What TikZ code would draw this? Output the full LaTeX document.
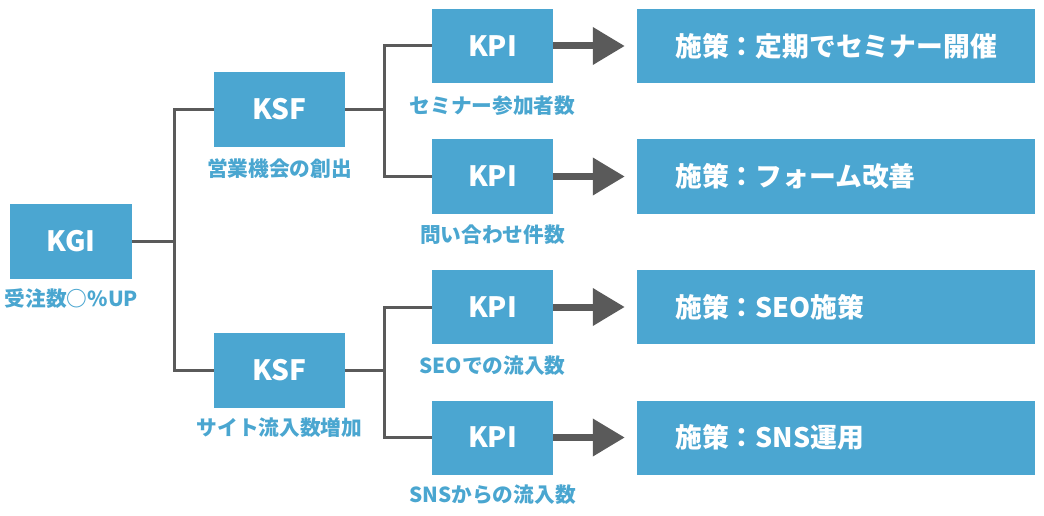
\documentclass[tikz,border=0pt]{standalone}
\usepackage{fontspec}
\setmainfont{Noto Sans CJK JP}
\usetikzlibrary{arrows.meta}
\definecolor{boxblue}{HTML}{4BA6D1}
\definecolor{lblblue}{HTML}{4AA6D0}
\definecolor{linegray}{HTML}{5A5A5A}
\tikzset{
  box/.style={fill=boxblue, draw=none, text=white, font=\fontsize{28}{30}\selectfont\bfseries, inner sep=0pt},
  headbox/.style={box, minimum width=122pt, minimum height=75pt},
  ksfbox/.style={box, minimum width=131pt, minimum height=75pt},
  kpibox/.style={box, minimum width=121pt, minimum height=74pt},
  measbox/.style={box, minimum width=398pt, minimum height=74pt},
  meastext/.style={anchor=west, text=white, font=\fontsize{26.8}{28}\selectfont\bfseries, inner sep=0pt},
  lbl/.style={text=lblblue, font=\fontsize{20.7}{22}\selectfont\bfseries, inner sep=0pt},
  conn/.style={draw=linegray, line width=3pt},
  bigarrow/.style={draw=linegray, line width=7pt, -{Triangle[length=32pt,width=36pt]}, shorten >=12pt},
}
\begin{document}
\begin{tikzpicture}[x=1pt,y=-1pt]
\useasboundingbox (0,0) rectangle (1044,516);
% boxes
\node[headbox] (kgi) at (71,241.5) {KGI};
\node[ksfbox] (ksf1) at (279.5,109.5) {KSF};
\node[ksfbox] (ksf2) at (279.5,370.5) {KSF};
\node[kpibox] (kpi1) at (492.5,46) {KPI};
\node[kpibox] (kpi2) at (492.5,176.5) {KPI};
\node[kpibox] (kpi3) at (492.5,307) {KPI};
\node[kpibox] (kpi4) at (492.5,437.5) {KPI};
\node[measbox] (m1) at (836,46) {};
\node[measbox] (m2) at (836,176.5) {};
\node[measbox] (m3) at (836,307) {};
\node[measbox] (m4) at (836,437.5) {};
\node[meastext] (t1) at (675,46) {施策：定期でセミナー開催};
\node[meastext] (t2) at (675,176.5) {施策：フォーム改善};
\node[meastext] (t3) at (675,307) {施策：SEO施策};
\node[meastext] (t4) at (675,437.5) {施策：SNS運用};
% labels
\node[lbl] (lkgi) at (71.5,299) {受注数○\%UP};
\node[lbl] (lksf1) at (279.5,169) {営業機会の創出};
\node[lbl] (lksf2) at (279.5,428) {サイト流入数増加};
\node[lbl] (lkpi1) at (492.5,106) {セミナー参加者数};
\node[lbl] (lkpi2) at (492.5,235) {問い合わせ件数};
\node[lbl] (lkpi3) at (492.5,366) {SEOでの流入数};
\node[lbl] (lkpi4) at (492.5,495) {SNSからの流入数};
% junctions
\coordinate (j1) at (174,241.5);
\coordinate (j2) at (384,109.5);
\coordinate (j3) at (384,370.5);
% connectors
\draw[conn] (kgi.east) -- (j1);
\draw[conn] (ksf1.west) -| (j1) |- (ksf2.west);
\draw[conn] (ksf1.east) -- (j2);
\draw[conn] (kpi1.west) -| (j2) |- (kpi2.west);
\draw[conn] (ksf2.east) -- (j3);
\draw[conn] (kpi3.west) -| (j3) |- (kpi4.west);
% arrows
\draw[bigarrow] (kpi1.east) -- (m1.west);
\draw[bigarrow] (kpi2.east) -- (m2.west);
\draw[bigarrow] (kpi3.east) -- (m3.west);
\draw[bigarrow] (kpi4.east) -- (m4.west);
\end{tikzpicture}
\end{document}
